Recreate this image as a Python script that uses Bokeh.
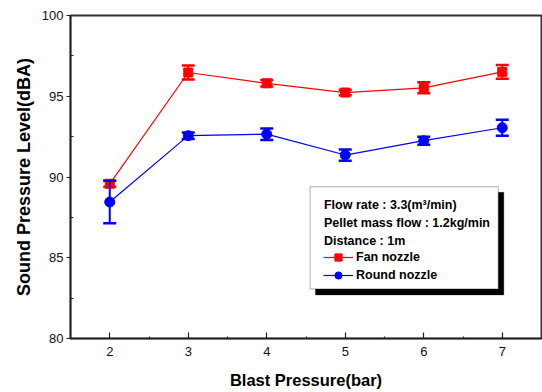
from bokeh.plotting import figure
from bokeh.models import (ColumnDataSource, Whisker, TeeHead, FixedTicker, Range1d,
                          BoxAnnotation, Label, Legend, LegendItem)
from bokeh.embed import file_html
from bokeh.resources import INLINE

# ---- data ----
pressure = [2, 3, 4, 5, 6, 7]
fan_spl = [89.58, 96.47, 95.80, 95.23, 95.52, 96.51]
fan_err = [0.19, 0.43, 0.20, 0.17, 0.34, 0.43]
round_spl = [88.45, 92.56, 92.65, 91.36, 92.25, 93.05]
round_err = [1.32, 0.20, 0.36, 0.35, 0.25, 0.49]
x_ticks = [2, 3, 4, 5, 6, 7]
x_minor = [2.5, 3.5, 4.5, 5.5, 6.5]
y_ticks = [80, 85, 90, 95, 100]
y_minor = [82.5, 87.5, 92.5, 97.5]
info_lines = ["Flow rate : 3.3(m\u00b3/min)", "Pellet mass flow : 1.2kg/min", "Distance : 1m"]
series_names = ["Fan nozzle", "Round nozzle"]

FONT = "Liberation Sans"
RED = "#FF0000"
BLUE = "#0000FF"

p = figure(width=542, height=392, output_backend="svg", toolbar_location=None,
           x_range=Range1d(1.5, 7.5), y_range=Range1d(80, 100),
           min_border_left=70, min_border_right=1, min_border_top=15, min_border_bottom=54)
p.background_fill_color = "white"
p.border_fill_color = "white"
p.grid.visible = False
p.outline_line_color = "#333333"
p.outline_line_width = 2

# axes
p.xaxis.ticker = FixedTicker(ticks=x_ticks, minor_ticks=x_minor)
p.yaxis.ticker = FixedTicker(ticks=y_ticks, minor_ticks=y_minor)
for ax in (p.xaxis, p.yaxis):
    ax.axis_line_color = "#222222"
    ax.axis_line_width = 1.5
    ax.major_tick_line_color = "#222222"
    ax.minor_tick_line_color = "#222222"
    ax.major_tick_line_width = 1.2
    ax.minor_tick_line_width = 1.2
    ax.major_label_text_font = FONT
    ax.major_label_text_font_size = "13px"
    ax.major_label_text_color = "#111111"
    ax.axis_label_text_font = FONT
    ax.axis_label_text_font_style = "bold"
    ax.axis_label_text_color = "black"

p.xaxis.major_tick_in = 6
p.xaxis.major_tick_out = 0
p.xaxis.minor_tick_in = 2
p.xaxis.minor_tick_out = 0
p.xaxis.major_label_standoff = 8
p.xaxis.axis_label = "Blast Pressure(bar)"
p.xaxis.axis_label_text_font_size = "16.5px"
p.xaxis.axis_label_standoff = 12

p.yaxis.major_tick_in = 0
p.yaxis.major_tick_out = 4
p.yaxis.minor_tick_in = 3
p.yaxis.minor_tick_out = 0
p.yaxis.major_label_standoff = 3
p.yaxis.axis_label = "Sound Pressure Level(dBA)"
p.yaxis.axis_label_text_font_size = "18px"
p.yaxis.axis_label_standoff = 5

# sources
fan_src = ColumnDataSource(dict(
    x=pressure, y=fan_spl,
    upper=[v + e for v, e in zip(fan_spl, fan_err)],
    lower=[v - e for v, e in zip(fan_spl, fan_err)]))
round_src = ColumnDataSource(dict(
    x=pressure, y=round_spl,
    upper=[v + e for v, e in zip(round_spl, round_err)],
    lower=[v - e for v, e in zip(round_spl, round_err)]))

# lines
fan_line = p.line("x", "y", source=fan_src, line_color=RED, line_width=1.2)
round_line = p.line("x", "y", source=round_src, line_color=BLUE, line_width=1.2)

# error bars
for src, col in ((fan_src, RED), (round_src, BLUE)):
    w = Whisker(source=src, base="x", upper="upper", lower="lower",
                line_color=col, line_width=2, level="glyph",
                upper_head=TeeHead(size=13, line_color=col, line_width=2.5),
                lower_head=TeeHead(size=13, line_color=col, line_width=2.5))
    p.add_layout(w)

fan_pts = p.scatter("x", "y", source=fan_src, marker="square", size=9,
                    fill_color=RED, line_color=RED)
round_pts = p.scatter("x", "y", source=round_src, marker="circle", size=10,
                      fill_color=BLUE, line_color=BLUE)

# info box with shadow
shadow = BoxAnnotation(left=4.62, right=7.02, top=89.05, bottom=82.70,
                       fill_color="black", fill_alpha=1.0, line_color="black",
                       level="annotation")
box = BoxAnnotation(left=4.553, right=6.949, top=89.40, bottom=83.07,
                    fill_color="white", fill_alpha=1.0, line_color="#222222",
                    line_width=1.2, level="annotation")
p.add_layout(shadow)
p.add_layout(box)

for txt, yy in zip(info_lines, [88.28, 87.17, 86.05]):
    p.add_layout(Label(x=4.729, y=yy, text=txt, text_font=FONT, text_font_size="12.5px",
                       text_font_style="bold", text_baseline="middle", text_color="black"))

legend = Legend(items=[LegendItem(label=series_names[0], renderers=[fan_line, fan_pts]),
                       LegendItem(label=series_names[1], renderers=[round_line, round_pts])],
                location=(253, 54), padding=0, margin=0, spacing=0,
                glyph_width=30, glyph_height=18, label_height=18, label_standoff=3,
                label_text_font=FONT, label_text_font_size="12.5px",
                label_text_font_style="bold", label_text_color="black",
                border_line_color=None, background_fill_alpha=0)
p.add_layout(legend)

open("out.html", "w").write(file_html(p, INLINE))
